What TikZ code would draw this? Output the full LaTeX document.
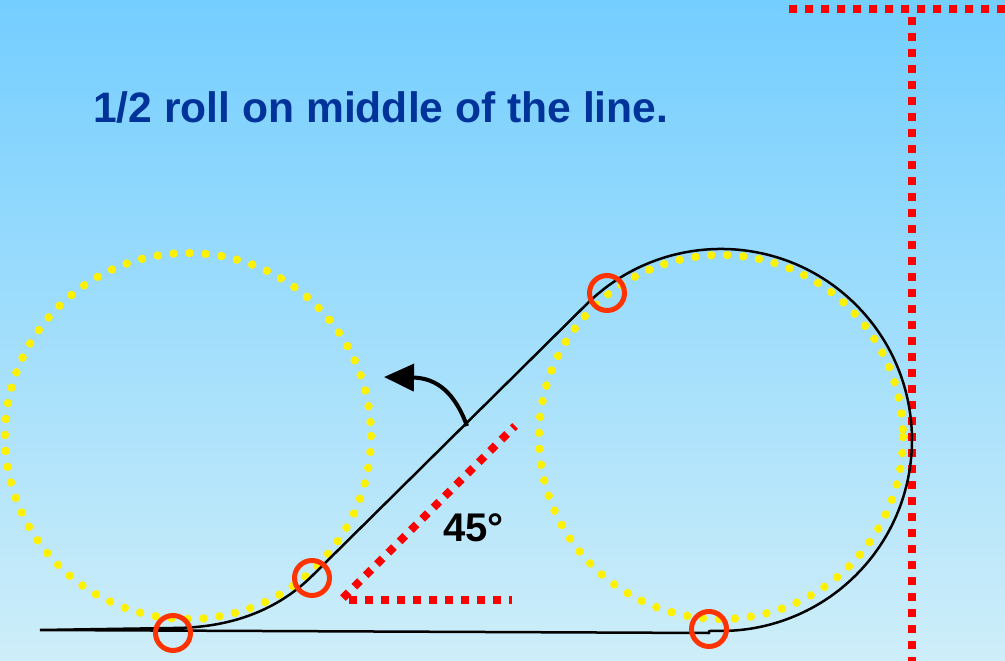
\documentclass[tikz,border=0pt]{standalone}
\usepackage{fontspec}
\setmainfont{Liberation Sans}
\usetikzlibrary{arrows.meta}
\definecolor{titleblue}{RGB}{0,51,153}
\definecolor{bgtop}{RGB}{116,206,255}
\definecolor{bgbot}{RGB}{206,238,249}
\definecolor{mark}{RGB}{255,51,0}
\tikzset{
  ydots/.style={yellow, line width=8.5pt, line cap=round, dash pattern=on 0pt off 16pt},
  rdots/.style={red, line width=8pt, dash pattern=on 8pt off 8pt},
  flight/.style={black, line width=2.5pt},
  marker/.style={draw=mark, line width=5pt, circle, minimum size=35pt, inner sep=0pt},
}
\begin{document}
\begin{tikzpicture}[x=1pt,y=-1pt]
\useasboundingbox (0,0) rectangle (1005,661);
\shade[top color=bgtop, bottom color=bgbot] (0,0) rectangle (1005,661);
% title
\node[anchor=base west, inner sep=0pt, text=titleblue, font=\fontsize{42.6}{48}\selectfont\bfseries] (title) at (93,123) {1/2 roll on middle of the line.};
% yellow dotted circles
\draw[ydots] (188,436) circle[radius=183];
\draw[ydots] (721,437) circle[radius=182];
% red dotted lines
\draw[rdots] (789,9) -- (1005,9);
\draw[rdots] (912,17) -- (912,661);
\draw[rdots] (343,598) -- (515,426);
\draw[rdots] (349,600) -- (512,600);
% flight path
\coordinate (s) at (40,630);
\coordinate (a) at (173,628);
\coordinate (b) at (313,575);
\coordinate (c) at (585.9,304.9);
\coordinate (e) at (709,631);
\coordinate (f) at (709,633);
\draw[flight, line join=round] (s) -- (a) .. controls (231,628) and (278,610) .. (b) -- (c)
  arc[start angle=225, end angle=450, radius=191] -- (e) -- (f) -- (s);
% arrow
\coordinate (ar0) at (467,426);
\coordinate (ar1) at (384,377);
\draw[black, line width=4pt, -{Triangle[length=30pt,width=27pt]}] (ar0) .. controls (455,393) and (437,378) .. (ar1);
% markers
\node[marker] (m1) at (173,633) {};
\node[marker] (m2) at (312,578) {};
\node[marker] (m3) at (607,293) {};
\node[marker] (m4) at (709,629) {};
% angle label
\node[anchor=base west, inner sep=0pt, font=\fontsize{40}{46}\selectfont\bfseries] (ang) at (443,541) {45°};
\end{tikzpicture}
\end{document}
